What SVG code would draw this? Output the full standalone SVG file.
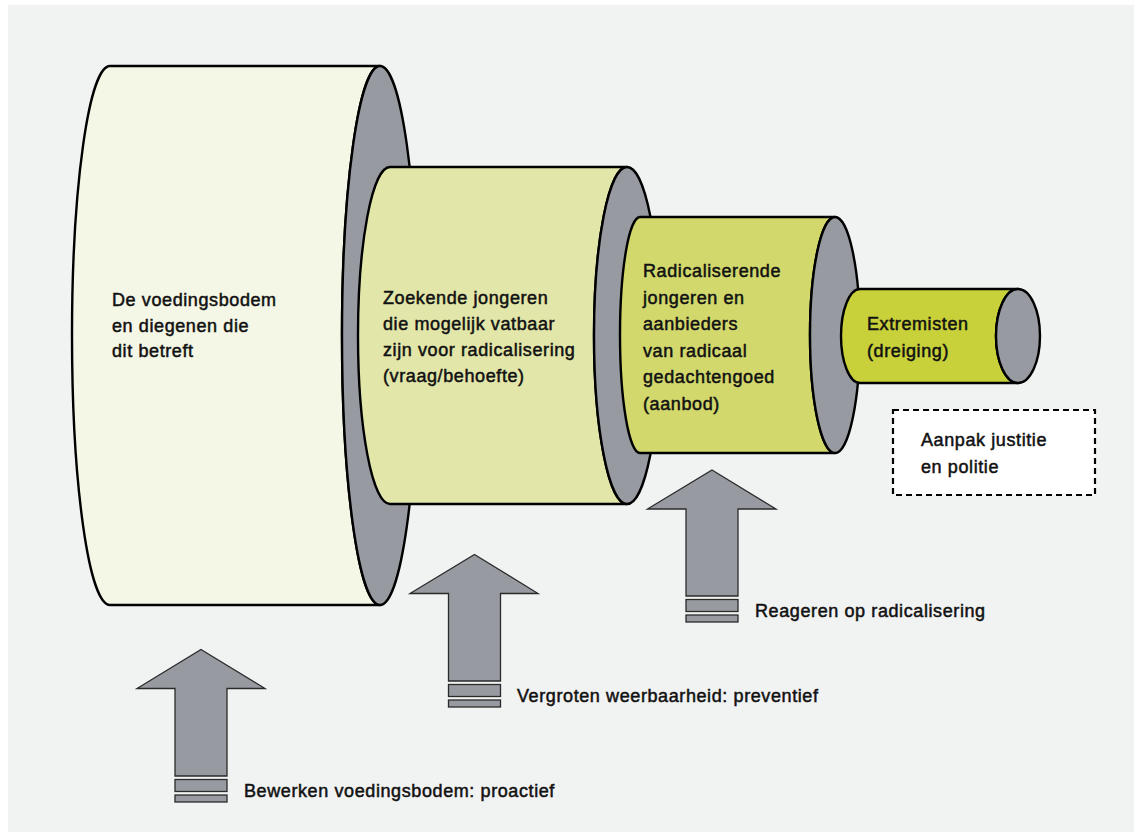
<svg xmlns="http://www.w3.org/2000/svg" width="1134" height="832" viewBox="0 0 1134 832">
<style>
.t{font-family:"Liberation Sans",Arial,sans-serif;font-size:18px;fill:#111;stroke:#111;stroke-width:0.5px;letter-spacing:0.6px}
.body{stroke:#000;stroke-width:2.4;stroke-linejoin:round}
.end{fill:#979aa0;stroke:#000;stroke-width:2.4}
.arr{fill:#979aa0;stroke:#2a2a2a;stroke-width:1.3}
</style>
<rect x="0" y="0" width="1134" height="832" fill="#ffffff"/>
<rect x="8" y="5" width="1126" height="827" fill="#f1f2f2"/>

<g id="cyl1">
<path class="body" fill="#f4f6e6" d="M110,66 L380,66 A38,269.5 0 0 0 380,605 L110,605 A38,269.5 0 0 1 110,66 Z"/>
<ellipse class="end" cx="380" cy="335.5" rx="38" ry="269.5"/>
<text class="t" x="112" y="306">De voedingsbodem</text>
<text class="t" x="112" y="331.5">en diegenen die</text>
<text class="t" x="112" y="357">dit betreft</text>
</g>

<g id="cyl2">
<path class="body" fill="#e2e6a9" d="M390,167 L627,167 A33,168.5 0 0 0 627,504 L390,504 A32,168.5 0 0 1 390,167 Z"/>
<ellipse class="end" cx="627" cy="335.5" rx="33" ry="168.5"/>
<text class="t" x="383" y="304">Zoekende jongeren</text>
<text class="t" x="383" y="330">die mogelijk vatbaar</text>
<text class="t" x="383" y="356">zijn voor radicalisering</text>
<text class="t" x="383" y="382">(vraag/behoefte)</text>
</g>

<g id="cyl3">
<path class="body" fill="#d2d86c" d="M640,217 L835,217 A25,118 0 0 0 835,453 L640,453 A20,118 0 0 1 640,217 Z"/>
<ellipse class="end" cx="835" cy="335" rx="25" ry="118"/>
<text class="t" x="643" y="277">Radicaliserende</text>
<text class="t" x="643" y="303.5">jongeren en</text>
<text class="t" x="643" y="330">aanbieders</text>
<text class="t" x="643" y="356.5">van radicaal</text>
<text class="t" x="643" y="383">gedachtengoed</text>
<text class="t" x="643" y="409.5">(aanbod)</text>
</g>

<g id="cyl4">
<path class="body" fill="#c8d03a" d="M860,289 L1018,289 A22,47 0 0 0 1018,383 L860,383 A19,47 0 0 1 860,289 Z"/>
<ellipse class="end" cx="1018" cy="336" rx="22" ry="47"/>
<text class="t" x="867" y="330">Extremisten</text>
<text class="t" x="867" y="357">(dreiging)</text>
</g>

<g id="justitie">
<rect x="893" y="410" width="202" height="85" fill="#ffffff" stroke="#000" stroke-width="2.2" stroke-dasharray="6,4"/>
<text class="t" x="921" y="446">Aanpak justitie</text>
<text class="t" x="921" y="473">en politie</text>
</g>

<g id="connectors">
<g id="arrow1">
<path class="arr" d="M201,649.5 L265,688.5 L227,688.5 L227,776 L175,776 L175,688.5 L137,688.5 Z"/>
<rect class="arr" x="175" y="779.5" width="52" height="12"/>
<rect class="arr" x="175" y="795" width="52" height="7"/>
</g>
<g id="arrow2">
<path class="arr" d="M474.5,554.5 L538,593.5 L500.5,593.5 L500.5,681 L448.5,681 L448.5,593.5 L410,593.5 Z"/>
<rect class="arr" x="448.5" y="684.5" width="52" height="12"/>
<rect class="arr" x="448.5" y="700" width="52" height="7"/>
</g>
<g id="arrow3">
<path class="arr" d="M712,470 L776,509 L738,509 L738,596 L686,596 L686,509 L647.5,509 Z"/>
<rect class="arr" x="686" y="599.5" width="52" height="12"/>
<rect class="arr" x="686" y="615" width="52" height="7"/>
</g>
</g>

<g id="labels">
<text class="t" x="244" y="797">Bewerken voedingsbodem: proactief</text>
<text class="t" x="517" y="701.5">Vergroten weerbaarheid: preventief</text>
<text class="t" x="755" y="617">Reageren op radicalisering</text>
</g>
</svg>
